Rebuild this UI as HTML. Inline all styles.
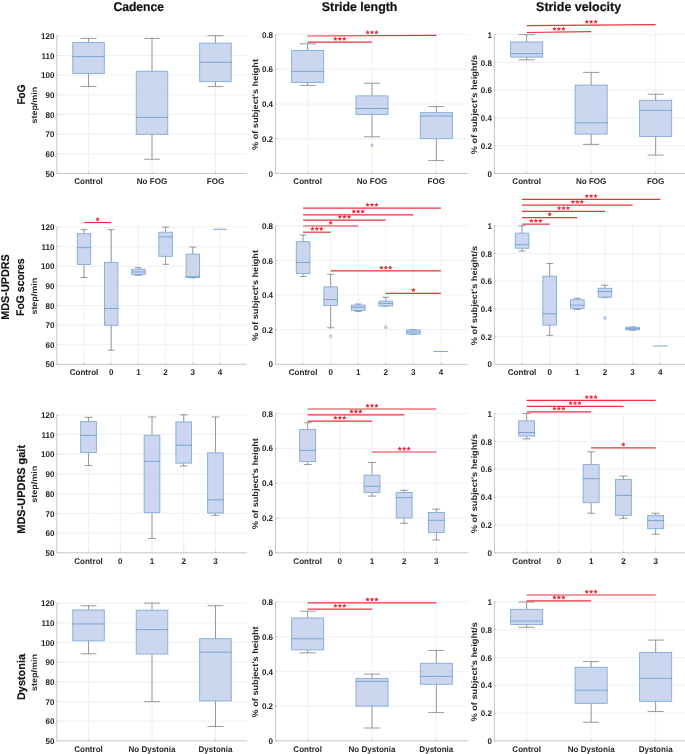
<!DOCTYPE html><html><head><meta charset="utf-8"><title>Gait parameters</title>
<style>html,body{margin:0;padding:0;background:#fff}svg{display:block;will-change:transform}text{font-family:"Liberation Sans",sans-serif;font-weight:bold;text-rendering:geometricPrecision}.t text{stroke:none}</style></head><body>
<svg width="685" height="754" viewBox="0 0 685 754">
<rect width="685" height="754" fill="#fff"/>
<text x="138.7" y="10.8" font-size="12.6" stroke="#111" stroke-width="0.2" text-anchor="middle" fill="#111" textLength="50.6" lengthAdjust="spacingAndGlyphs">Cadence</text>
<text x="359.6" y="10.8" font-size="12.6" stroke="#111" stroke-width="0.2" text-anchor="middle" fill="#111" textLength="75.6" lengthAdjust="spacingAndGlyphs">Stride length</text>
<text x="578.6" y="10.8" font-size="12.6" stroke="#111" stroke-width="0.2" text-anchor="middle" fill="#111" textLength="85" lengthAdjust="spacingAndGlyphs">Stride velocity</text>
<text transform="translate(21.4,94.5) rotate(-90)" font-size="11.2" stroke="#111" stroke-width="0.15" text-anchor="middle" fill="#111" textLength="20.1" lengthAdjust="spacingAndGlyphs" y="3.95">FoG</text>
<g class="t"><line x1="56.8" y1="153.76" x2="247.2" y2="153.76" stroke="#ececec" stroke-width="0.8"/><line x1="56.8" y1="134.11" x2="247.2" y2="134.11" stroke="#ececec" stroke-width="0.8"/><line x1="56.8" y1="114.47" x2="247.2" y2="114.47" stroke="#ececec" stroke-width="0.8"/><line x1="56.8" y1="94.83" x2="247.2" y2="94.83" stroke="#ececec" stroke-width="0.8"/><line x1="56.8" y1="75.19" x2="247.2" y2="75.19" stroke="#ececec" stroke-width="0.8"/><line x1="56.8" y1="55.54" x2="247.2" y2="55.54" stroke="#ececec" stroke-width="0.8"/><line x1="56.8" y1="35.9" x2="247.2" y2="35.9" stroke="#ececec" stroke-width="0.8"/><line x1="88.53" y1="35.9" x2="88.53" y2="173.4" stroke="#ececec" stroke-width="0.8"/><line x1="152" y1="35.9" x2="152" y2="173.4" stroke="#ececec" stroke-width="0.8"/><line x1="215.47" y1="35.9" x2="215.47" y2="173.4" stroke="#ececec" stroke-width="0.8"/><path d="M88.53 38.45V42.58M88.53 73.42V86.38M80.62 38.45H96.44M80.62 86.38H96.44" stroke="#808080" stroke-width="0.8" fill="none"/><rect x="72.77" y="42.58" width="31.53" height="30.84" fill="#bbcaea" fill-opacity="0.75" stroke="#7fabd9" stroke-width="0.9"/><line x1="72.32" y1="56.53" x2="104.75" y2="56.53" stroke="#6f9fd3" stroke-width="0.9"/><path d="M152 38.45V71.26M152 134.31V159.26M144.09 38.45H159.91M144.09 159.26H159.91" stroke="#808080" stroke-width="0.8" fill="none"/><rect x="136.23" y="71.26" width="31.53" height="63.05" fill="#bbcaea" fill-opacity="0.75" stroke="#7fabd9" stroke-width="0.9"/><line x1="135.78" y1="117.42" x2="168.22" y2="117.42" stroke="#6f9fd3" stroke-width="0.9"/><path d="M215.47 35.7V43.17M215.47 81.67V86.58M207.56 35.7H223.38M207.56 86.58H223.38" stroke="#808080" stroke-width="0.8" fill="none"/><rect x="199.7" y="43.17" width="31.53" height="38.5" fill="#bbcaea" fill-opacity="0.75" stroke="#7fabd9" stroke-width="0.9"/><line x1="199.25" y1="62.22" x2="231.68" y2="62.22" stroke="#6f9fd3" stroke-width="0.9"/><path d="M56.8 35.9V173.4H247.2" stroke="#bbbbbb" stroke-width="0.85" fill="none"/><path d="M56.8 173.4h1.6M56.8 153.76h1.6M56.8 134.11h1.6M56.8 114.47h1.6M56.8 94.83h1.6M56.8 75.19h1.6M56.8 55.54h1.6M56.8 35.9h1.6M88.53 173.4v-1.6M152 173.4v-1.6M215.47 173.4v-1.6" stroke="#bbbbbb" stroke-width="0.8" fill="none"/><text transform="translate(54.4,176.55) scale(0.97,1)" font-size="8.3" text-anchor="end" fill="#262626">50</text><text transform="translate(54.4,156.91) scale(0.97,1)" font-size="8.3" text-anchor="end" fill="#262626">60</text><text transform="translate(54.4,137.26) scale(0.97,1)" font-size="8.3" text-anchor="end" fill="#262626">70</text><text transform="translate(54.4,117.62) scale(0.97,1)" font-size="8.3" text-anchor="end" fill="#262626">80</text><text transform="translate(54.4,97.98) scale(0.97,1)" font-size="8.3" text-anchor="end" fill="#262626">90</text><text transform="translate(54.4,78.34) scale(0.97,1)" font-size="8.3" text-anchor="end" fill="#262626">100</text><text transform="translate(54.4,58.69) scale(0.97,1)" font-size="8.3" text-anchor="end" fill="#262626">110</text><text transform="translate(54.4,39.05) scale(0.97,1)" font-size="8.3" text-anchor="end" fill="#262626">120</text><text transform="translate(88.53,184.2) scale(0.97,1)" font-size="8.3" text-anchor="middle" fill="#262626">Control</text><text transform="translate(152,184.2) scale(0.97,1)" font-size="8.3" text-anchor="middle" fill="#262626">No FOG</text><text transform="translate(215.47,184.2) scale(0.97,1)" font-size="8.3" text-anchor="middle" fill="#262626">FOG</text><text transform="translate(36.8,105.15) rotate(-90)" font-size="8.2" text-anchor="middle" fill="#262626" textLength="36.8" lengthAdjust="spacingAndGlyphs" y="0">step/min</text></g>
<g class="t"><line x1="275.5" y1="138.7" x2="468.5" y2="138.7" stroke="#ececec" stroke-width="0.8"/><line x1="275.5" y1="104" x2="468.5" y2="104" stroke="#ececec" stroke-width="0.8"/><line x1="275.5" y1="69.3" x2="468.5" y2="69.3" stroke="#ececec" stroke-width="0.8"/><line x1="275.5" y1="34.6" x2="468.5" y2="34.6" stroke="#ececec" stroke-width="0.8"/><line x1="307.67" y1="34.6" x2="307.67" y2="173.4" stroke="#ececec" stroke-width="0.8"/><line x1="372" y1="34.6" x2="372" y2="173.4" stroke="#ececec" stroke-width="0.8"/><line x1="436.33" y1="34.6" x2="436.33" y2="173.4" stroke="#ececec" stroke-width="0.8"/><path d="M307.67 43.8V50.56M307.67 82.49V85.44M299.65 43.8H315.68M299.65 85.44H315.68" stroke="#808080" stroke-width="0.8" fill="none"/><rect x="291.68" y="50.56" width="31.97" height="31.92" fill="#bbcaea" fill-opacity="0.75" stroke="#7fabd9" stroke-width="0.9"/><line x1="291.23" y1="71.38" x2="324.1" y2="71.38" stroke="#6f9fd3" stroke-width="0.9"/><path d="M372 83.18V95.85M372 114.41V136.79M363.98 83.18H380.02M363.98 136.79H380.02" stroke="#808080" stroke-width="0.8" fill="none"/><rect x="356.02" y="95.85" width="31.97" height="18.56" fill="#bbcaea" fill-opacity="0.75" stroke="#7fabd9" stroke-width="0.9"/><line x1="355.57" y1="108.51" x2="388.43" y2="108.51" stroke="#6f9fd3" stroke-width="0.9"/><circle cx="372" cy="145.36" r="1.25" fill="none" stroke="#6f9fd3" stroke-width="0.75"/><path d="M436.33 106.6V112.68M436.33 138.7V160.6M428.32 106.6H444.35M428.32 160.6H444.35" stroke="#808080" stroke-width="0.8" fill="none"/><rect x="420.35" y="112.68" width="31.97" height="26.02" fill="#bbcaea" fill-opacity="0.75" stroke="#7fabd9" stroke-width="0.9"/><line x1="419.9" y1="115.97" x2="452.77" y2="115.97" stroke="#6f9fd3" stroke-width="0.9"/><path d="M275.5 34.6V173.4H468.5" stroke="#bbbbbb" stroke-width="0.85" fill="none"/><path d="M275.5 173.4h1.6M275.5 138.7h1.6M275.5 104h1.6M275.5 69.3h1.6M275.5 34.6h1.6M307.67 173.4v-1.6M372 173.4v-1.6M436.33 173.4v-1.6" stroke="#bbbbbb" stroke-width="0.8" fill="none"/><text transform="translate(273.1,176.55) scale(0.97,1)" font-size="8.3" text-anchor="end" fill="#262626">0</text><text transform="translate(273.1,141.85) scale(0.97,1)" font-size="8.3" text-anchor="end" fill="#262626">0.2</text><text transform="translate(273.1,107.15) scale(0.97,1)" font-size="8.3" text-anchor="end" fill="#262626">0.4</text><text transform="translate(273.1,72.45) scale(0.97,1)" font-size="8.3" text-anchor="end" fill="#262626">0.6</text><text transform="translate(273.1,37.75) scale(0.97,1)" font-size="8.3" text-anchor="end" fill="#262626">0.8</text><text transform="translate(307.67,184.2) scale(0.97,1)" font-size="8.3" text-anchor="middle" fill="#262626">Control</text><text transform="translate(372,184.2) scale(0.97,1)" font-size="8.3" text-anchor="middle" fill="#262626">No FOG</text><text transform="translate(436.33,184.2) scale(0.97,1)" font-size="8.3" text-anchor="middle" fill="#262626">FOG</text><text transform="translate(258.3,104.5) rotate(-90)" font-size="8.2" text-anchor="middle" fill="#262626" textLength="91" lengthAdjust="spacingAndGlyphs" y="0">% of subject&#39;s height</text><line x1="307.67" y1="36" x2="436.33" y2="35.4" stroke="#e8323c" stroke-width="1.2"/><polygon points="367.55,30.1 368.23,31.52 369.78,31.72 368.64,32.81 368.93,34.35 367.55,33.6 366.17,34.35 366.46,32.81 365.32,31.72 366.87,31.52" fill="#e8323c"/><polygon points="372,30.1 372.68,31.52 374.23,31.72 373.09,32.81 373.38,34.35 372,33.6 370.62,34.35 370.91,32.81 369.77,31.72 371.32,31.52" fill="#e8323c"/><polygon points="376.45,30.1 377.13,31.52 378.68,31.72 377.54,32.81 377.83,34.35 376.45,33.6 375.07,34.35 375.36,32.81 374.22,31.72 375.77,31.52" fill="#e8323c"/><line x1="307.67" y1="42.1" x2="372" y2="42.1" stroke="#e8323c" stroke-width="1.2"/><polygon points="335.38,36.5 336.06,37.92 337.62,38.12 336.48,39.21 336.76,40.75 335.38,40 334,40.75 334.29,39.21 333.15,38.12 334.71,37.92" fill="#e8323c"/><polygon points="339.83,36.5 340.51,37.92 342.07,38.12 340.93,39.21 341.21,40.75 339.83,40 338.45,40.75 338.74,39.21 337.6,38.12 339.16,37.92" fill="#e8323c"/><polygon points="344.28,36.5 344.96,37.92 346.52,38.12 345.38,39.21 345.66,40.75 344.28,40 342.9,40.75 343.19,39.21 342.05,38.12 343.61,37.92" fill="#e8323c"/></g>
<g class="t"><line x1="494.4" y1="145.64" x2="687.9" y2="145.64" stroke="#ececec" stroke-width="0.8"/><line x1="494.4" y1="117.88" x2="687.9" y2="117.88" stroke="#ececec" stroke-width="0.8"/><line x1="494.4" y1="90.12" x2="687.9" y2="90.12" stroke="#ececec" stroke-width="0.8"/><line x1="494.4" y1="62.36" x2="687.9" y2="62.36" stroke="#ececec" stroke-width="0.8"/><line x1="494.4" y1="34.6" x2="687.9" y2="34.6" stroke="#ececec" stroke-width="0.8"/><line x1="526.65" y1="34.6" x2="526.65" y2="173.4" stroke="#ececec" stroke-width="0.8"/><line x1="591.15" y1="34.6" x2="591.15" y2="173.4" stroke="#ececec" stroke-width="0.8"/><line x1="655.65" y1="34.6" x2="655.65" y2="173.4" stroke="#ececec" stroke-width="0.8"/><path d="M526.65 34.6V41.96M526.65 57.09V59.86M518.61 34.6H534.69M518.61 59.86H534.69" stroke="#808080" stroke-width="0.8" fill="none"/><rect x="510.62" y="41.96" width="32.05" height="15.13" fill="#bbcaea" fill-opacity="0.75" stroke="#7fabd9" stroke-width="0.9"/><line x1="510.17" y1="53.62" x2="543.12" y2="53.62" stroke="#6f9fd3" stroke-width="0.9"/><path d="M591.15 72.42V85.12M591.15 134.12V144.39M583.11 72.42H599.19M583.11 144.39H599.19" stroke="#808080" stroke-width="0.8" fill="none"/><rect x="575.12" y="85.12" width="32.05" height="49" fill="#bbcaea" fill-opacity="0.75" stroke="#7fabd9" stroke-width="0.9"/><line x1="574.67" y1="122.81" x2="607.62" y2="122.81" stroke="#6f9fd3" stroke-width="0.9"/><path d="M655.65 94.23V100.25M655.65 136.62V155.08M647.61 94.23H663.69M647.61 155.08H663.69" stroke="#808080" stroke-width="0.8" fill="none"/><rect x="639.62" y="100.25" width="32.05" height="36.37" fill="#bbcaea" fill-opacity="0.75" stroke="#7fabd9" stroke-width="0.9"/><line x1="639.17" y1="110.38" x2="672.12" y2="110.38" stroke="#6f9fd3" stroke-width="0.9"/><path d="M494.4 34.6V173.4H687.9" stroke="#bbbbbb" stroke-width="0.85" fill="none"/><path d="M494.4 173.4h1.6M494.4 145.64h1.6M494.4 117.88h1.6M494.4 90.12h1.6M494.4 62.36h1.6M494.4 34.6h1.6M526.65 173.4v-1.6M591.15 173.4v-1.6M655.65 173.4v-1.6" stroke="#bbbbbb" stroke-width="0.8" fill="none"/><text transform="translate(492,176.55) scale(0.97,1)" font-size="8.3" text-anchor="end" fill="#262626">0</text><text transform="translate(492,148.79) scale(0.97,1)" font-size="8.3" text-anchor="end" fill="#262626">0.2</text><text transform="translate(492,121.03) scale(0.97,1)" font-size="8.3" text-anchor="end" fill="#262626">0.4</text><text transform="translate(492,93.27) scale(0.97,1)" font-size="8.3" text-anchor="end" fill="#262626">0.6</text><text transform="translate(492,65.51) scale(0.97,1)" font-size="8.3" text-anchor="end" fill="#262626">0.8</text><text transform="translate(492,37.75) scale(0.97,1)" font-size="8.3" text-anchor="end" fill="#262626">1</text><text transform="translate(526.65,184.2) scale(0.97,1)" font-size="8.3" text-anchor="middle" fill="#262626">Control</text><text transform="translate(591.15,184.2) scale(0.97,1)" font-size="8.3" text-anchor="middle" fill="#262626">No FOG</text><text transform="translate(655.65,184.2) scale(0.97,1)" font-size="8.3" text-anchor="middle" fill="#262626">FOG</text><text transform="translate(477.2,104.5) rotate(-90)" font-size="8.2" text-anchor="middle" fill="#262626" textLength="99.3" lengthAdjust="spacingAndGlyphs" y="0">% of subject&#39;s height/s</text><line x1="526.65" y1="25.6" x2="655.65" y2="24.7" stroke="#e8323c" stroke-width="1.2"/><polygon points="586.7,19.55 587.38,20.97 588.93,21.17 587.79,22.26 588.08,23.8 586.7,23.05 585.32,23.8 585.61,22.26 584.47,21.17 586.02,20.97" fill="#e8323c"/><polygon points="591.15,19.55 591.83,20.97 593.38,21.17 592.24,22.26 592.53,23.8 591.15,23.05 589.77,23.8 590.06,22.26 588.92,21.17 590.47,20.97" fill="#e8323c"/><polygon points="595.6,19.55 596.28,20.97 597.83,21.17 596.69,22.26 596.98,23.8 595.6,23.05 594.22,23.8 594.51,22.26 593.37,21.17 594.92,20.97" fill="#e8323c"/><line x1="526.65" y1="32.5" x2="591.15" y2="31.7" stroke="#e8323c" stroke-width="1.2"/><polygon points="554.45,26.5 555.13,27.92 556.68,28.12 555.54,29.21 555.83,30.75 554.45,30 553.07,30.75 553.36,29.21 552.22,28.12 553.77,27.92" fill="#e8323c"/><polygon points="558.9,26.5 559.58,27.92 561.13,28.12 559.99,29.21 560.28,30.75 558.9,30 557.52,30.75 557.81,29.21 556.67,28.12 558.22,27.92" fill="#e8323c"/><polygon points="563.35,26.5 564.03,27.92 565.58,28.12 564.44,29.21 564.73,30.75 563.35,30 561.97,30.75 562.26,29.21 561.12,28.12 562.67,27.92" fill="#e8323c"/></g>
<text transform="translate(5.45,287) rotate(-90)" font-size="11.2" stroke="#111" stroke-width="0.15" text-anchor="middle" fill="#111" textLength="65.5" lengthAdjust="spacingAndGlyphs" y="3.95">MDS-UPDRS</text>
<text transform="translate(20.1,287.2) rotate(-90)" font-size="11.2" stroke="#111" stroke-width="0.15" text-anchor="middle" fill="#111" textLength="57.5" lengthAdjust="spacingAndGlyphs" y="3.95">FoG scores</text>
<g class="t"><line x1="56.8" y1="344.7" x2="247.2" y2="344.7" stroke="#ececec" stroke-width="0.8"/><line x1="56.8" y1="325.1" x2="247.2" y2="325.1" stroke="#ececec" stroke-width="0.8"/><line x1="56.8" y1="305.5" x2="247.2" y2="305.5" stroke="#ececec" stroke-width="0.8"/><line x1="56.8" y1="285.9" x2="247.2" y2="285.9" stroke="#ececec" stroke-width="0.8"/><line x1="56.8" y1="266.3" x2="247.2" y2="266.3" stroke="#ececec" stroke-width="0.8"/><line x1="56.8" y1="246.7" x2="247.2" y2="246.7" stroke="#ececec" stroke-width="0.8"/><line x1="56.8" y1="227.1" x2="247.2" y2="227.1" stroke="#ececec" stroke-width="0.8"/><line x1="84" y1="227.1" x2="84" y2="364.3" stroke="#ececec" stroke-width="0.8"/><line x1="111.2" y1="227.1" x2="111.2" y2="364.3" stroke="#ececec" stroke-width="0.8"/><line x1="138.4" y1="227.1" x2="138.4" y2="364.3" stroke="#ececec" stroke-width="0.8"/><line x1="165.6" y1="227.1" x2="165.6" y2="364.3" stroke="#ececec" stroke-width="0.8"/><line x1="192.8" y1="227.1" x2="192.8" y2="364.3" stroke="#ececec" stroke-width="0.8"/><line x1="220" y1="227.1" x2="220" y2="364.3" stroke="#ececec" stroke-width="0.8"/><path d="M84 229.65V233.76M84 264.54V277.47M80.62 229.65H87.38M80.62 277.47H87.38" stroke="#808080" stroke-width="0.8" fill="none"/><rect x="77.3" y="233.76" width="13.4" height="30.77" fill="#bbcaea" fill-opacity="0.75" stroke="#7fabd9" stroke-width="0.9"/><line x1="76.85" y1="247.68" x2="91.15" y2="247.68" stroke="#6f9fd3" stroke-width="0.9"/><path d="M111.2 229.65V262.38M111.2 325.3V350.19M107.82 229.65H114.57M107.82 350.19H114.57" stroke="#808080" stroke-width="0.8" fill="none"/><rect x="104.5" y="262.38" width="13.4" height="62.92" fill="#bbcaea" fill-opacity="0.75" stroke="#7fabd9" stroke-width="0.9"/><line x1="104.05" y1="308.44" x2="118.35" y2="308.44" stroke="#6f9fd3" stroke-width="0.9"/><path d="M138.4 267.67V269.24M138.4 274.53V275.32M135.02 267.67H141.77M135.02 275.32H141.77" stroke="#808080" stroke-width="0.8" fill="none"/><rect x="131.7" y="269.24" width="13.4" height="5.29" fill="#bbcaea" fill-opacity="0.75" stroke="#7fabd9" stroke-width="0.9"/><line x1="131.25" y1="271.98" x2="145.55" y2="271.98" stroke="#6f9fd3" stroke-width="0.9"/><path d="M165.6 227.1V232.2M165.6 256.3V264.34M162.22 227.1H168.97M162.22 264.34H168.97" stroke="#808080" stroke-width="0.8" fill="none"/><rect x="158.9" y="232.2" width="13.4" height="24.11" fill="#bbcaea" fill-opacity="0.75" stroke="#7fabd9" stroke-width="0.9"/><line x1="158.45" y1="236.9" x2="172.75" y2="236.9" stroke="#6f9fd3" stroke-width="0.9"/><path d="M192.8 247.09V254.15M192.8 277.47V277.86M189.43 247.09H196.18M189.43 277.86H196.18" stroke="#808080" stroke-width="0.8" fill="none"/><rect x="186.1" y="254.15" width="13.4" height="23.32" fill="#bbcaea" fill-opacity="0.75" stroke="#7fabd9" stroke-width="0.9"/><line x1="185.65" y1="276.69" x2="199.95" y2="276.69" stroke="#6f9fd3" stroke-width="0.9"/><line x1="212.85" y1="229.26" x2="227.15" y2="229.26" stroke="#6f9fd3" stroke-width="0.9"/><path d="M56.8 227.1V364.3H247.2" stroke="#bbbbbb" stroke-width="0.85" fill="none"/><path d="M56.8 364.3h1.6M56.8 344.7h1.6M56.8 325.1h1.6M56.8 305.5h1.6M56.8 285.9h1.6M56.8 266.3h1.6M56.8 246.7h1.6M56.8 227.1h1.6M84 364.3v-1.6M111.2 364.3v-1.6M138.4 364.3v-1.6M165.6 364.3v-1.6M192.8 364.3v-1.6M220 364.3v-1.6" stroke="#bbbbbb" stroke-width="0.8" fill="none"/><text transform="translate(54.4,367.45) scale(0.97,1)" font-size="8.3" text-anchor="end" fill="#262626">50</text><text transform="translate(54.4,347.85) scale(0.97,1)" font-size="8.3" text-anchor="end" fill="#262626">60</text><text transform="translate(54.4,328.25) scale(0.97,1)" font-size="8.3" text-anchor="end" fill="#262626">70</text><text transform="translate(54.4,308.65) scale(0.97,1)" font-size="8.3" text-anchor="end" fill="#262626">80</text><text transform="translate(54.4,289.05) scale(0.97,1)" font-size="8.3" text-anchor="end" fill="#262626">90</text><text transform="translate(54.4,269.45) scale(0.97,1)" font-size="8.3" text-anchor="end" fill="#262626">100</text><text transform="translate(54.4,249.85) scale(0.97,1)" font-size="8.3" text-anchor="end" fill="#262626">110</text><text transform="translate(54.4,230.25) scale(0.97,1)" font-size="8.3" text-anchor="end" fill="#262626">120</text><text transform="translate(84,375.1) scale(0.97,1)" font-size="8.3" text-anchor="middle" fill="#262626">Control</text><text transform="translate(111.2,375.1) scale(0.97,1)" font-size="8.3" text-anchor="middle" fill="#262626">0</text><text transform="translate(138.4,375.1) scale(0.97,1)" font-size="8.3" text-anchor="middle" fill="#262626">1</text><text transform="translate(165.6,375.1) scale(0.97,1)" font-size="8.3" text-anchor="middle" fill="#262626">2</text><text transform="translate(192.8,375.1) scale(0.97,1)" font-size="8.3" text-anchor="middle" fill="#262626">3</text><text transform="translate(220,375.1) scale(0.97,1)" font-size="8.3" text-anchor="middle" fill="#262626">4</text><text transform="translate(36.8,296.2) rotate(-90)" font-size="8.2" text-anchor="middle" fill="#262626" textLength="36.8" lengthAdjust="spacingAndGlyphs" y="0">step/min</text><line x1="84" y1="222.5" x2="111.2" y2="222.5" stroke="#e8323c" stroke-width="1.2"/><polygon points="97.6,216.9 98.28,218.32 99.83,218.52 98.69,219.61 98.98,221.15 97.6,220.4 96.22,221.15 96.51,219.61 95.37,218.52 96.92,218.32" fill="#e8323c"/></g>
<g class="t"><line x1="275.5" y1="329.68" x2="468.5" y2="329.68" stroke="#ececec" stroke-width="0.8"/><line x1="275.5" y1="295.05" x2="468.5" y2="295.05" stroke="#ececec" stroke-width="0.8"/><line x1="275.5" y1="260.43" x2="468.5" y2="260.43" stroke="#ececec" stroke-width="0.8"/><line x1="275.5" y1="225.8" x2="468.5" y2="225.8" stroke="#ececec" stroke-width="0.8"/><line x1="303.07" y1="225.8" x2="303.07" y2="364.3" stroke="#ececec" stroke-width="0.8"/><line x1="330.64" y1="225.8" x2="330.64" y2="364.3" stroke="#ececec" stroke-width="0.8"/><line x1="358.21" y1="225.8" x2="358.21" y2="364.3" stroke="#ececec" stroke-width="0.8"/><line x1="385.79" y1="225.8" x2="385.79" y2="364.3" stroke="#ececec" stroke-width="0.8"/><line x1="413.36" y1="225.8" x2="413.36" y2="364.3" stroke="#ececec" stroke-width="0.8"/><line x1="440.93" y1="225.8" x2="440.93" y2="364.3" stroke="#ececec" stroke-width="0.8"/><path d="M303.07 234.98V241.73M303.07 273.58V276.53M299.65 234.98H306.49M299.65 276.53H306.49" stroke="#808080" stroke-width="0.8" fill="none"/><rect x="296.28" y="241.73" width="13.59" height="31.85" fill="#bbcaea" fill-opacity="0.75" stroke="#7fabd9" stroke-width="0.9"/><line x1="295.83" y1="262.5" x2="310.31" y2="262.5" stroke="#6f9fd3" stroke-width="0.9"/><path d="M330.64 274.27V286.91M330.64 305.44V327.77M327.22 274.27H334.06M327.22 327.77H334.06" stroke="#808080" stroke-width="0.8" fill="none"/><rect x="323.85" y="286.91" width="13.59" height="18.52" fill="#bbcaea" fill-opacity="0.75" stroke="#7fabd9" stroke-width="0.9"/><line x1="323.4" y1="299.55" x2="337.89" y2="299.55" stroke="#6f9fd3" stroke-width="0.9"/><circle cx="330.64" cy="336.32" r="1.25" fill="none" stroke="#6f9fd3" stroke-width="0.75"/><path d="M358.21 304.05V305.09M358.21 310.46V311.39M354.79 304.05H361.64M354.79 311.39H361.64" stroke="#808080" stroke-width="0.8" fill="none"/><rect x="351.42" y="305.09" width="13.59" height="5.37" fill="#bbcaea" fill-opacity="0.75" stroke="#7fabd9" stroke-width="0.9"/><line x1="350.97" y1="307.34" x2="365.46" y2="307.34" stroke="#6f9fd3" stroke-width="0.9"/><path d="M385.79 297.3V301.11M385.79 305.96V306.13M382.36 297.3H389.21M382.36 306.13H389.21" stroke="#808080" stroke-width="0.8" fill="none"/><rect x="378.99" y="301.11" width="13.59" height="4.85" fill="#bbcaea" fill-opacity="0.75" stroke="#7fabd9" stroke-width="0.9"/><line x1="378.54" y1="303.36" x2="393.03" y2="303.36" stroke="#6f9fd3" stroke-width="0.9"/><circle cx="385.79" cy="327.3" r="1.25" fill="none" stroke="#6f9fd3" stroke-width="0.75"/><path d="M413.36 329.68V330.02M413.36 334.09V334.52M409.94 329.68H416.78M409.94 334.52H416.78" stroke="#808080" stroke-width="0.8" fill="none"/><rect x="406.56" y="330.02" width="13.59" height="4.07" fill="#bbcaea" fill-opacity="0.75" stroke="#7fabd9" stroke-width="0.9"/><line x1="406.11" y1="332.1" x2="420.6" y2="332.1" stroke="#6f9fd3" stroke-width="0.9"/><line x1="433.69" y1="351.49" x2="448.17" y2="351.49" stroke="#6f9fd3" stroke-width="0.9"/><path d="M275.5 225.8V364.3H468.5" stroke="#bbbbbb" stroke-width="0.85" fill="none"/><path d="M275.5 364.3h1.6M275.5 329.68h1.6M275.5 295.05h1.6M275.5 260.43h1.6M275.5 225.8h1.6M303.07 364.3v-1.6M330.64 364.3v-1.6M358.21 364.3v-1.6M385.79 364.3v-1.6M413.36 364.3v-1.6M440.93 364.3v-1.6" stroke="#bbbbbb" stroke-width="0.8" fill="none"/><text transform="translate(273.1,367.45) scale(0.97,1)" font-size="8.3" text-anchor="end" fill="#262626">0</text><text transform="translate(273.1,332.82) scale(0.97,1)" font-size="8.3" text-anchor="end" fill="#262626">0.2</text><text transform="translate(273.1,298.2) scale(0.97,1)" font-size="8.3" text-anchor="end" fill="#262626">0.4</text><text transform="translate(273.1,263.57) scale(0.97,1)" font-size="8.3" text-anchor="end" fill="#262626">0.6</text><text transform="translate(273.1,228.95) scale(0.97,1)" font-size="8.3" text-anchor="end" fill="#262626">0.8</text><text transform="translate(303.07,375.1) scale(0.97,1)" font-size="8.3" text-anchor="middle" fill="#262626">Control</text><text transform="translate(330.64,375.1) scale(0.97,1)" font-size="8.3" text-anchor="middle" fill="#262626">0</text><text transform="translate(358.21,375.1) scale(0.97,1)" font-size="8.3" text-anchor="middle" fill="#262626">1</text><text transform="translate(385.79,375.1) scale(0.97,1)" font-size="8.3" text-anchor="middle" fill="#262626">2</text><text transform="translate(413.36,375.1) scale(0.97,1)" font-size="8.3" text-anchor="middle" fill="#262626">3</text><text transform="translate(440.93,375.1) scale(0.97,1)" font-size="8.3" text-anchor="middle" fill="#262626">4</text><text transform="translate(258.3,295.55) rotate(-90)" font-size="8.2" text-anchor="middle" fill="#262626" textLength="91" lengthAdjust="spacingAndGlyphs" y="0">% of subject&#39;s height</text><line x1="303.07" y1="208.1" x2="440.93" y2="208.1" stroke="#e8323c" stroke-width="1.2"/><polygon points="367.55,202.5 368.23,203.92 369.78,204.12 368.64,205.21 368.93,206.75 367.55,206 366.17,206.75 366.46,205.21 365.32,204.12 366.87,203.92" fill="#e8323c"/><polygon points="372,202.5 372.68,203.92 374.23,204.12 373.09,205.21 373.38,206.75 372,206 370.62,206.75 370.91,205.21 369.77,204.12 371.32,203.92" fill="#e8323c"/><polygon points="376.45,202.5 377.13,203.92 378.68,204.12 377.54,205.21 377.83,206.75 376.45,206 375.07,206.75 375.36,205.21 374.22,204.12 375.77,203.92" fill="#e8323c"/><line x1="303.07" y1="214.8" x2="413.36" y2="214.8" stroke="#e8323c" stroke-width="1.2"/><polygon points="353.76,209.2 354.44,210.62 356,210.82 354.86,211.91 355.15,213.45 353.76,212.7 352.38,213.45 352.67,211.91 351.53,210.82 353.09,210.62" fill="#e8323c"/><polygon points="358.21,209.2 358.89,210.62 360.45,210.82 359.31,211.91 359.6,213.45 358.21,212.7 356.83,213.45 357.12,211.91 355.98,210.82 357.54,210.62" fill="#e8323c"/><polygon points="362.66,209.2 363.34,210.62 364.9,210.82 363.76,211.91 364.05,213.45 362.66,212.7 361.28,213.45 361.57,211.91 360.43,210.82 361.99,210.62" fill="#e8323c"/><line x1="303.07" y1="220.2" x2="385.79" y2="220.2" stroke="#e8323c" stroke-width="1.2"/><polygon points="339.98,214.6 340.65,216.02 342.21,216.22 341.07,217.31 341.36,218.85 339.98,218.1 338.6,218.85 338.88,217.31 337.74,216.22 339.3,216.02" fill="#e8323c"/><polygon points="344.43,214.6 345.1,216.02 346.66,216.22 345.52,217.31 345.81,218.85 344.43,218.1 343.05,218.85 343.33,217.31 342.19,216.22 343.75,216.02" fill="#e8323c"/><polygon points="348.88,214.6 349.55,216.02 351.11,216.22 349.97,217.31 350.26,218.85 348.88,218.1 347.5,218.85 347.78,217.31 346.64,216.22 348.2,216.02" fill="#e8323c"/><line x1="303.07" y1="226" x2="358.21" y2="226" stroke="#e8323c" stroke-width="1.2"/><polygon points="330.64,220.4 331.32,221.82 332.88,222.02 331.74,223.11 332.02,224.65 330.64,223.9 329.26,224.65 329.55,223.11 328.41,222.02 329.97,221.82" fill="#e8323c"/><line x1="303.07" y1="232.2" x2="330.64" y2="232.2" stroke="#e8323c" stroke-width="1.2"/><polygon points="312.41,226.6 313.08,228.02 314.64,228.22 313.5,229.31 313.79,230.85 312.41,230.1 311.03,230.85 311.31,229.31 310.17,228.22 311.73,228.02" fill="#e8323c"/><polygon points="316.86,226.6 317.53,228.02 319.09,228.22 317.95,229.31 318.24,230.85 316.86,230.1 315.48,230.85 315.76,229.31 314.62,228.22 316.18,228.02" fill="#e8323c"/><polygon points="321.31,226.6 321.98,228.02 323.54,228.22 322.4,229.31 322.69,230.85 321.31,230.1 319.93,230.85 320.21,229.31 319.07,228.22 320.63,228.02" fill="#e8323c"/><line x1="330.64" y1="270.9" x2="440.93" y2="270.9" stroke="#e8323c" stroke-width="1.2"/><polygon points="381.34,265.3 382.01,266.72 383.57,266.92 382.43,268.01 382.72,269.55 381.34,268.8 379.95,269.55 380.24,268.01 379.1,266.92 380.66,266.72" fill="#e8323c"/><polygon points="385.79,265.3 386.46,266.72 388.02,266.92 386.88,268.01 387.17,269.55 385.79,268.8 384.4,269.55 384.69,268.01 383.55,266.92 385.11,266.72" fill="#e8323c"/><polygon points="390.24,265.3 390.91,266.72 392.47,266.92 391.33,268.01 391.62,269.55 390.24,268.8 388.85,269.55 389.14,268.01 388,266.92 389.56,266.72" fill="#e8323c"/><line x1="385.79" y1="293.3" x2="440.93" y2="293.3" stroke="#e8323c" stroke-width="1.2"/><polygon points="413.36,287.7 414.03,289.12 415.59,289.32 414.45,290.41 414.74,291.95 413.36,291.2 411.98,291.95 412.26,290.41 411.12,289.32 412.68,289.12" fill="#e8323c"/></g>
<g class="t"><line x1="494.4" y1="336.6" x2="687.9" y2="336.6" stroke="#ececec" stroke-width="0.8"/><line x1="494.4" y1="308.9" x2="687.9" y2="308.9" stroke="#ececec" stroke-width="0.8"/><line x1="494.4" y1="281.2" x2="687.9" y2="281.2" stroke="#ececec" stroke-width="0.8"/><line x1="494.4" y1="253.5" x2="687.9" y2="253.5" stroke="#ececec" stroke-width="0.8"/><line x1="494.4" y1="225.8" x2="687.9" y2="225.8" stroke="#ececec" stroke-width="0.8"/><line x1="522.04" y1="225.8" x2="522.04" y2="364.3" stroke="#ececec" stroke-width="0.8"/><line x1="549.69" y1="225.8" x2="549.69" y2="364.3" stroke="#ececec" stroke-width="0.8"/><line x1="577.33" y1="225.8" x2="577.33" y2="364.3" stroke="#ececec" stroke-width="0.8"/><line x1="604.97" y1="225.8" x2="604.97" y2="364.3" stroke="#ececec" stroke-width="0.8"/><line x1="632.61" y1="225.8" x2="632.61" y2="364.3" stroke="#ececec" stroke-width="0.8"/><line x1="660.26" y1="225.8" x2="660.26" y2="364.3" stroke="#ececec" stroke-width="0.8"/><path d="M522.04 225.8V233.14M522.04 248.24V251.01M518.61 225.8H525.47M518.61 251.01H525.47" stroke="#808080" stroke-width="0.8" fill="none"/><rect x="515.23" y="233.14" width="13.62" height="15.1" fill="#bbcaea" fill-opacity="0.75" stroke="#7fabd9" stroke-width="0.9"/><line x1="514.78" y1="244.77" x2="529.3" y2="244.77" stroke="#6f9fd3" stroke-width="0.9"/><path d="M549.69 263.54V276.21M549.69 325.1V335.35M546.26 263.54H553.12M546.26 335.35H553.12" stroke="#808080" stroke-width="0.8" fill="none"/><rect x="542.88" y="276.21" width="13.62" height="48.89" fill="#bbcaea" fill-opacity="0.75" stroke="#7fabd9" stroke-width="0.9"/><line x1="542.43" y1="313.82" x2="556.95" y2="313.82" stroke="#6f9fd3" stroke-width="0.9"/><path d="M577.33 298.3V299.76M577.33 308.35V309.45M573.9 298.3H580.76M573.9 309.45H580.76" stroke="#808080" stroke-width="0.8" fill="none"/><rect x="570.52" y="299.76" width="13.62" height="8.59" fill="#bbcaea" fill-opacity="0.75" stroke="#7fabd9" stroke-width="0.9"/><line x1="570.07" y1="305.16" x2="584.59" y2="305.16" stroke="#6f9fd3" stroke-width="0.9"/><path d="M604.97 285.22V288.26M604.97 297.13V297.6M601.54 285.22H608.4M601.54 297.6H608.4" stroke="#808080" stroke-width="0.8" fill="none"/><rect x="598.16" y="288.26" width="13.62" height="8.86" fill="#bbcaea" fill-opacity="0.75" stroke="#7fabd9" stroke-width="0.9"/><line x1="597.71" y1="291.5" x2="612.23" y2="291.5" stroke="#6f9fd3" stroke-width="0.9"/><circle cx="604.97" cy="318.04" r="1.25" fill="none" stroke="#6f9fd3" stroke-width="0.75"/><path d="M632.61 326.91V327.32M632.61 329.81V330.23M629.18 326.91H636.04M629.18 330.23H636.04" stroke="#808080" stroke-width="0.8" fill="none"/><rect x="625.8" y="327.32" width="13.62" height="2.49" fill="#bbcaea" fill-opacity="0.75" stroke="#7fabd9" stroke-width="0.9"/><line x1="625.35" y1="328.57" x2="639.87" y2="328.57" stroke="#6f9fd3" stroke-width="0.9"/><line x1="653" y1="346.02" x2="667.52" y2="346.02" stroke="#6f9fd3" stroke-width="0.9"/><path d="M494.4 225.8V364.3H687.9" stroke="#bbbbbb" stroke-width="0.85" fill="none"/><path d="M494.4 364.3h1.6M494.4 336.6h1.6M494.4 308.9h1.6M494.4 281.2h1.6M494.4 253.5h1.6M494.4 225.8h1.6M522.04 364.3v-1.6M549.69 364.3v-1.6M577.33 364.3v-1.6M604.97 364.3v-1.6M632.61 364.3v-1.6M660.26 364.3v-1.6" stroke="#bbbbbb" stroke-width="0.8" fill="none"/><text transform="translate(492,367.45) scale(0.97,1)" font-size="8.3" text-anchor="end" fill="#262626">0</text><text transform="translate(492,339.75) scale(0.97,1)" font-size="8.3" text-anchor="end" fill="#262626">0.2</text><text transform="translate(492,312.05) scale(0.97,1)" font-size="8.3" text-anchor="end" fill="#262626">0.4</text><text transform="translate(492,284.35) scale(0.97,1)" font-size="8.3" text-anchor="end" fill="#262626">0.6</text><text transform="translate(492,256.65) scale(0.97,1)" font-size="8.3" text-anchor="end" fill="#262626">0.8</text><text transform="translate(492,228.95) scale(0.97,1)" font-size="8.3" text-anchor="end" fill="#262626">1</text><text transform="translate(522.04,375.1) scale(0.97,1)" font-size="8.3" text-anchor="middle" fill="#262626">Control</text><text transform="translate(549.69,375.1) scale(0.97,1)" font-size="8.3" text-anchor="middle" fill="#262626">0</text><text transform="translate(577.33,375.1) scale(0.97,1)" font-size="8.3" text-anchor="middle" fill="#262626">1</text><text transform="translate(604.97,375.1) scale(0.97,1)" font-size="8.3" text-anchor="middle" fill="#262626">2</text><text transform="translate(632.61,375.1) scale(0.97,1)" font-size="8.3" text-anchor="middle" fill="#262626">3</text><text transform="translate(660.26,375.1) scale(0.97,1)" font-size="8.3" text-anchor="middle" fill="#262626">4</text><text transform="translate(477.2,295.55) rotate(-90)" font-size="8.2" text-anchor="middle" fill="#262626" textLength="99.3" lengthAdjust="spacingAndGlyphs" y="0">% of subject&#39;s height/s</text><line x1="522.04" y1="199.4" x2="660.26" y2="199.4" stroke="#e8323c" stroke-width="1.2"/><polygon points="586.7,193.8 587.38,195.22 588.93,195.42 587.79,196.51 588.08,198.05 586.7,197.3 585.32,198.05 585.61,196.51 584.47,195.42 586.02,195.22" fill="#e8323c"/><polygon points="591.15,193.8 591.83,195.22 593.38,195.42 592.24,196.51 592.53,198.05 591.15,197.3 589.77,198.05 590.06,196.51 588.92,195.42 590.47,195.22" fill="#e8323c"/><polygon points="595.6,193.8 596.28,195.22 597.83,195.42 596.69,196.51 596.98,198.05 595.6,197.3 594.22,198.05 594.51,196.51 593.37,195.42 594.92,195.22" fill="#e8323c"/><line x1="522.04" y1="205.1" x2="632.61" y2="205.1" stroke="#e8323c" stroke-width="1.2"/><polygon points="572.88,199.5 573.55,200.92 575.11,201.12 573.97,202.21 574.26,203.75 572.88,203 571.5,203.75 571.78,202.21 570.64,201.12 572.2,200.92" fill="#e8323c"/><polygon points="577.33,199.5 578,200.92 579.56,201.12 578.42,202.21 578.71,203.75 577.33,203 575.95,203.75 576.23,202.21 575.09,201.12 576.65,200.92" fill="#e8323c"/><polygon points="581.78,199.5 582.45,200.92 584.01,201.12 582.87,202.21 583.16,203.75 581.78,203 580.4,203.75 580.68,202.21 579.54,201.12 581.1,200.92" fill="#e8323c"/><line x1="522.04" y1="211.35" x2="604.97" y2="211.35" stroke="#e8323c" stroke-width="1.2"/><polygon points="559.06,205.75 559.73,207.17 561.29,207.37 560.15,208.46 560.44,210 559.06,209.25 557.68,210 557.96,208.46 556.82,207.37 558.38,207.17" fill="#e8323c"/><polygon points="563.51,205.75 564.18,207.17 565.74,207.37 564.6,208.46 564.89,210 563.51,209.25 562.13,210 562.41,208.46 561.27,207.37 562.83,207.17" fill="#e8323c"/><polygon points="567.96,205.75 568.63,207.17 570.19,207.37 569.05,208.46 569.34,210 567.96,209.25 566.58,210 566.86,208.46 565.72,207.37 567.28,207.17" fill="#e8323c"/><line x1="522.04" y1="217.55" x2="577.33" y2="217.55" stroke="#e8323c" stroke-width="1.2"/><polygon points="549.69,211.95 550.36,213.37 551.92,213.57 550.78,214.66 551.07,216.2 549.69,215.45 548.3,216.2 548.59,214.66 547.45,213.57 549.01,213.37" fill="#e8323c"/><line x1="522.04" y1="224.15" x2="549.69" y2="224.15" stroke="#e8323c" stroke-width="1.2"/><polygon points="531.41,218.55 532.09,219.97 533.65,220.17 532.51,221.26 532.8,222.8 531.41,222.05 530.03,222.8 530.32,221.26 529.18,220.17 530.74,219.97" fill="#e8323c"/><polygon points="535.86,218.55 536.54,219.97 538.1,220.17 536.96,221.26 537.25,222.8 535.86,222.05 534.48,222.8 534.77,221.26 533.63,220.17 535.19,219.97" fill="#e8323c"/><polygon points="540.31,218.55 540.99,219.97 542.55,220.17 541.41,221.26 541.7,222.8 540.31,222.05 538.93,222.8 539.22,221.26 538.08,220.17 539.64,219.97" fill="#e8323c"/></g>
<text transform="translate(21.4,489.3) rotate(-90)" font-size="11.2" stroke="#111" stroke-width="0.15" text-anchor="middle" fill="#111" textLength="88.7" lengthAdjust="spacingAndGlyphs" y="3.95">MDS-UPDRS gait</text>
<g class="t"><line x1="56.8" y1="533.09" x2="247.2" y2="533.09" stroke="#ececec" stroke-width="0.8"/><line x1="56.8" y1="513.37" x2="247.2" y2="513.37" stroke="#ececec" stroke-width="0.8"/><line x1="56.8" y1="493.66" x2="247.2" y2="493.66" stroke="#ececec" stroke-width="0.8"/><line x1="56.8" y1="473.94" x2="247.2" y2="473.94" stroke="#ececec" stroke-width="0.8"/><line x1="56.8" y1="454.23" x2="247.2" y2="454.23" stroke="#ececec" stroke-width="0.8"/><line x1="56.8" y1="434.51" x2="247.2" y2="434.51" stroke="#ececec" stroke-width="0.8"/><line x1="56.8" y1="414.8" x2="247.2" y2="414.8" stroke="#ececec" stroke-width="0.8"/><line x1="88.53" y1="414.8" x2="88.53" y2="552.8" stroke="#ececec" stroke-width="0.8"/><line x1="120.27" y1="414.8" x2="120.27" y2="552.8" stroke="#ececec" stroke-width="0.8"/><line x1="152" y1="414.8" x2="152" y2="552.8" stroke="#ececec" stroke-width="0.8"/><line x1="183.73" y1="414.8" x2="183.73" y2="552.8" stroke="#ececec" stroke-width="0.8"/><line x1="215.47" y1="414.8" x2="215.47" y2="552.8" stroke="#ececec" stroke-width="0.8"/><path d="M88.53 417.36V421.5M88.53 452.45V465.47M84.59 417.36H92.47M84.59 465.47H92.47" stroke="#808080" stroke-width="0.8" fill="none"/><rect x="80.7" y="421.5" width="15.67" height="30.95" fill="#bbcaea" fill-opacity="0.75" stroke="#7fabd9" stroke-width="0.9"/><line x1="80.25" y1="435.5" x2="96.82" y2="435.5" stroke="#6f9fd3" stroke-width="0.9"/><path d="M152 416.97V435.3M152 512.58V538.41M148.06 416.97H155.94M148.06 538.41H155.94" stroke="#808080" stroke-width="0.8" fill="none"/><rect x="144.17" y="435.3" width="15.67" height="77.28" fill="#bbcaea" fill-opacity="0.75" stroke="#7fabd9" stroke-width="0.9"/><line x1="143.72" y1="461.33" x2="160.28" y2="461.33" stroke="#6f9fd3" stroke-width="0.9"/><path d="M183.73 414.8V421.9M183.73 463.1V466.06M179.79 414.8H187.68M179.79 466.06H187.68" stroke="#808080" stroke-width="0.8" fill="none"/><rect x="175.9" y="421.9" width="15.67" height="41.2" fill="#bbcaea" fill-opacity="0.75" stroke="#7fabd9" stroke-width="0.9"/><line x1="175.45" y1="445.16" x2="192.02" y2="445.16" stroke="#6f9fd3" stroke-width="0.9"/><path d="M215.47 416.97V452.85M215.47 512.98V515.34M211.53 416.97H219.41M211.53 515.34H219.41" stroke="#808080" stroke-width="0.8" fill="none"/><rect x="207.63" y="452.85" width="15.67" height="60.13" fill="#bbcaea" fill-opacity="0.75" stroke="#7fabd9" stroke-width="0.9"/><line x1="207.18" y1="499.77" x2="223.75" y2="499.77" stroke="#6f9fd3" stroke-width="0.9"/><path d="M56.8 414.8V552.8H247.2" stroke="#bbbbbb" stroke-width="0.85" fill="none"/><path d="M56.8 552.8h1.6M56.8 533.09h1.6M56.8 513.37h1.6M56.8 493.66h1.6M56.8 473.94h1.6M56.8 454.23h1.6M56.8 434.51h1.6M56.8 414.8h1.6M88.53 552.8v-1.6M120.27 552.8v-1.6M152 552.8v-1.6M183.73 552.8v-1.6M215.47 552.8v-1.6" stroke="#bbbbbb" stroke-width="0.8" fill="none"/><text transform="translate(54.4,555.95) scale(0.97,1)" font-size="8.3" text-anchor="end" fill="#262626">50</text><text transform="translate(54.4,536.24) scale(0.97,1)" font-size="8.3" text-anchor="end" fill="#262626">60</text><text transform="translate(54.4,516.52) scale(0.97,1)" font-size="8.3" text-anchor="end" fill="#262626">70</text><text transform="translate(54.4,496.81) scale(0.97,1)" font-size="8.3" text-anchor="end" fill="#262626">80</text><text transform="translate(54.4,477.09) scale(0.97,1)" font-size="8.3" text-anchor="end" fill="#262626">90</text><text transform="translate(54.4,457.38) scale(0.97,1)" font-size="8.3" text-anchor="end" fill="#262626">100</text><text transform="translate(54.4,437.66) scale(0.97,1)" font-size="8.3" text-anchor="end" fill="#262626">110</text><text transform="translate(54.4,417.95) scale(0.97,1)" font-size="8.3" text-anchor="end" fill="#262626">120</text><text transform="translate(88.53,563.6) scale(0.97,1)" font-size="8.3" text-anchor="middle" fill="#262626">Control</text><text transform="translate(120.27,563.6) scale(0.97,1)" font-size="8.3" text-anchor="middle" fill="#262626">0</text><text transform="translate(152,563.6) scale(0.97,1)" font-size="8.3" text-anchor="middle" fill="#262626">1</text><text transform="translate(183.73,563.6) scale(0.97,1)" font-size="8.3" text-anchor="middle" fill="#262626">2</text><text transform="translate(215.47,563.6) scale(0.97,1)" font-size="8.3" text-anchor="middle" fill="#262626">3</text><text transform="translate(36.8,484.3) rotate(-90)" font-size="8.2" text-anchor="middle" fill="#262626" textLength="36.8" lengthAdjust="spacingAndGlyphs" y="0">step/min</text></g>
<g class="t"><line x1="275.5" y1="517.97" x2="468.5" y2="517.97" stroke="#ececec" stroke-width="0.8"/><line x1="275.5" y1="483.15" x2="468.5" y2="483.15" stroke="#ececec" stroke-width="0.8"/><line x1="275.5" y1="448.32" x2="468.5" y2="448.32" stroke="#ececec" stroke-width="0.8"/><line x1="275.5" y1="413.5" x2="468.5" y2="413.5" stroke="#ececec" stroke-width="0.8"/><line x1="307.67" y1="413.5" x2="307.67" y2="552.8" stroke="#ececec" stroke-width="0.8"/><line x1="339.83" y1="413.5" x2="339.83" y2="552.8" stroke="#ececec" stroke-width="0.8"/><line x1="372" y1="413.5" x2="372" y2="552.8" stroke="#ececec" stroke-width="0.8"/><line x1="404.17" y1="413.5" x2="404.17" y2="552.8" stroke="#ececec" stroke-width="0.8"/><line x1="436.33" y1="413.5" x2="436.33" y2="552.8" stroke="#ececec" stroke-width="0.8"/><path d="M307.67 422.73V429.52M307.67 461.56V464.52M303.67 422.73H311.66M303.67 464.52H311.66" stroke="#808080" stroke-width="0.8" fill="none"/><rect x="299.73" y="429.52" width="15.88" height="32.04" fill="#bbcaea" fill-opacity="0.75" stroke="#7fabd9" stroke-width="0.9"/><line x1="299.28" y1="450.41" x2="316.06" y2="450.41" stroke="#6f9fd3" stroke-width="0.9"/><path d="M372 462.43V475.19M372 492.59V496.09M368 462.43H376M368 496.09H376" stroke="#808080" stroke-width="0.8" fill="none"/><rect x="364.06" y="475.19" width="15.88" height="17.4" fill="#bbcaea" fill-opacity="0.75" stroke="#7fabd9" stroke-width="0.9"/><line x1="363.61" y1="486.28" x2="380.39" y2="486.28" stroke="#6f9fd3" stroke-width="0.9"/><path d="M404.17 490.29V492.59M404.17 517.97V523.3M400.17 490.29H408.16M400.17 523.3H408.16" stroke="#808080" stroke-width="0.8" fill="none"/><rect x="396.22" y="492.59" width="15.88" height="25.39" fill="#bbcaea" fill-opacity="0.75" stroke="#7fabd9" stroke-width="0.9"/><line x1="395.77" y1="497.6" x2="412.56" y2="497.6" stroke="#6f9fd3" stroke-width="0.9"/><path d="M436.33 509.2V512.49M436.33 532.43V540M432.34 509.2H440.33M432.34 540H440.33" stroke="#808080" stroke-width="0.8" fill="none"/><rect x="428.39" y="512.49" width="15.88" height="19.94" fill="#bbcaea" fill-opacity="0.75" stroke="#7fabd9" stroke-width="0.9"/><line x1="427.94" y1="520.29" x2="444.72" y2="520.29" stroke="#6f9fd3" stroke-width="0.9"/><path d="M275.5 413.5V552.8H468.5" stroke="#bbbbbb" stroke-width="0.85" fill="none"/><path d="M275.5 552.8h1.6M275.5 517.97h1.6M275.5 483.15h1.6M275.5 448.32h1.6M275.5 413.5h1.6M307.67 552.8v-1.6M339.83 552.8v-1.6M372 552.8v-1.6M404.17 552.8v-1.6M436.33 552.8v-1.6" stroke="#bbbbbb" stroke-width="0.8" fill="none"/><text transform="translate(273.1,555.95) scale(0.97,1)" font-size="8.3" text-anchor="end" fill="#262626">0</text><text transform="translate(273.1,521.12) scale(0.97,1)" font-size="8.3" text-anchor="end" fill="#262626">0.2</text><text transform="translate(273.1,486.3) scale(0.97,1)" font-size="8.3" text-anchor="end" fill="#262626">0.4</text><text transform="translate(273.1,451.47) scale(0.97,1)" font-size="8.3" text-anchor="end" fill="#262626">0.6</text><text transform="translate(273.1,416.65) scale(0.97,1)" font-size="8.3" text-anchor="end" fill="#262626">0.8</text><text transform="translate(307.67,563.6) scale(0.97,1)" font-size="8.3" text-anchor="middle" fill="#262626">Control</text><text transform="translate(339.83,563.6) scale(0.97,1)" font-size="8.3" text-anchor="middle" fill="#262626">0</text><text transform="translate(372,563.6) scale(0.97,1)" font-size="8.3" text-anchor="middle" fill="#262626">1</text><text transform="translate(404.17,563.6) scale(0.97,1)" font-size="8.3" text-anchor="middle" fill="#262626">2</text><text transform="translate(436.33,563.6) scale(0.97,1)" font-size="8.3" text-anchor="middle" fill="#262626">3</text><text transform="translate(258.3,483.65) rotate(-90)" font-size="8.2" text-anchor="middle" fill="#262626" textLength="91" lengthAdjust="spacingAndGlyphs" y="0">% of subject&#39;s height</text><line x1="307.67" y1="409" x2="436.33" y2="409" stroke="#e8323c" stroke-width="1.2"/><polygon points="367.55,403.4 368.23,404.82 369.78,405.02 368.64,406.11 368.93,407.65 367.55,406.9 366.17,407.65 366.46,406.11 365.32,405.02 366.87,404.82" fill="#e8323c"/><polygon points="372,403.4 372.68,404.82 374.23,405.02 373.09,406.11 373.38,407.65 372,406.9 370.62,407.65 370.91,406.11 369.77,405.02 371.32,404.82" fill="#e8323c"/><polygon points="376.45,403.4 377.13,404.82 378.68,405.02 377.54,406.11 377.83,407.65 376.45,406.9 375.07,407.65 375.36,406.11 374.22,405.02 375.77,404.82" fill="#e8323c"/><line x1="307.67" y1="414.8" x2="404.17" y2="414.8" stroke="#e8323c" stroke-width="1.2"/><polygon points="351.47,409.2 352.14,410.62 353.7,410.82 352.56,411.91 352.85,413.45 351.47,412.7 350.09,413.45 350.37,411.91 349.23,410.82 350.79,410.62" fill="#e8323c"/><polygon points="355.92,409.2 356.59,410.62 358.15,410.82 357.01,411.91 357.3,413.45 355.92,412.7 354.54,413.45 354.82,411.91 353.68,410.82 355.24,410.62" fill="#e8323c"/><polygon points="360.37,409.2 361.04,410.62 362.6,410.82 361.46,411.91 361.75,413.45 360.37,412.7 358.99,413.45 359.27,411.91 358.13,410.82 359.69,410.62" fill="#e8323c"/><line x1="307.67" y1="421.1" x2="372" y2="421.1" stroke="#e8323c" stroke-width="1.2"/><polygon points="335.38,415.5 336.06,416.92 337.62,417.12 336.48,418.21 336.76,419.75 335.38,419 334,419.75 334.29,418.21 333.15,417.12 334.71,416.92" fill="#e8323c"/><polygon points="339.83,415.5 340.51,416.92 342.07,417.12 340.93,418.21 341.21,419.75 339.83,419 338.45,419.75 338.74,418.21 337.6,417.12 339.16,416.92" fill="#e8323c"/><polygon points="344.28,415.5 344.96,416.92 346.52,417.12 345.38,418.21 345.66,419.75 344.28,419 342.9,419.75 343.19,418.21 342.05,417.12 343.61,416.92" fill="#e8323c"/><line x1="372" y1="452" x2="436.33" y2="452" stroke="#e8323c" stroke-width="1.2"/><polygon points="399.72,446.4 400.39,447.82 401.95,448.02 400.81,449.11 401.1,450.65 399.72,449.9 398.34,450.65 398.62,449.11 397.48,448.02 399.04,447.82" fill="#e8323c"/><polygon points="404.17,446.4 404.84,447.82 406.4,448.02 405.26,449.11 405.55,450.65 404.17,449.9 402.79,450.65 403.07,449.11 401.93,448.02 403.49,447.82" fill="#e8323c"/><polygon points="408.62,446.4 409.29,447.82 410.85,448.02 409.71,449.11 410,450.65 408.62,449.9 407.24,450.65 407.52,449.11 406.38,448.02 407.94,447.82" fill="#e8323c"/></g>
<g class="t"><line x1="494.4" y1="524.94" x2="687.9" y2="524.94" stroke="#ececec" stroke-width="0.8"/><line x1="494.4" y1="497.08" x2="687.9" y2="497.08" stroke="#ececec" stroke-width="0.8"/><line x1="494.4" y1="469.22" x2="687.9" y2="469.22" stroke="#ececec" stroke-width="0.8"/><line x1="494.4" y1="441.36" x2="687.9" y2="441.36" stroke="#ececec" stroke-width="0.8"/><line x1="494.4" y1="413.5" x2="687.9" y2="413.5" stroke="#ececec" stroke-width="0.8"/><line x1="526.65" y1="413.5" x2="526.65" y2="552.8" stroke="#ececec" stroke-width="0.8"/><line x1="558.9" y1="413.5" x2="558.9" y2="552.8" stroke="#ececec" stroke-width="0.8"/><line x1="591.15" y1="413.5" x2="591.15" y2="552.8" stroke="#ececec" stroke-width="0.8"/><line x1="623.4" y1="413.5" x2="623.4" y2="552.8" stroke="#ececec" stroke-width="0.8"/><line x1="655.65" y1="413.5" x2="655.65" y2="552.8" stroke="#ececec" stroke-width="0.8"/><path d="M526.65 413.5V420.88M526.65 436.07V438.85M522.64 413.5H530.66M522.64 438.85H530.66" stroke="#808080" stroke-width="0.8" fill="none"/><rect x="518.69" y="420.88" width="15.92" height="15.18" fill="#bbcaea" fill-opacity="0.75" stroke="#7fabd9" stroke-width="0.9"/><line x1="518.24" y1="432.58" x2="535.06" y2="432.58" stroke="#6f9fd3" stroke-width="0.9"/><path d="M591.15 451.81V464.4M591.15 502.71V513.24M587.14 451.81H595.16M587.14 513.24H595.16" stroke="#808080" stroke-width="0.8" fill="none"/><rect x="583.19" y="464.4" width="15.92" height="38.31" fill="#bbcaea" fill-opacity="0.75" stroke="#7fabd9" stroke-width="0.9"/><line x1="582.74" y1="478.69" x2="599.56" y2="478.69" stroke="#6f9fd3" stroke-width="0.9"/><path d="M623.4 476.05V479.53M623.4 515.33V518.3M619.39 476.05H627.41M619.39 518.3H627.41" stroke="#808080" stroke-width="0.8" fill="none"/><rect x="615.44" y="479.53" width="15.92" height="35.8" fill="#bbcaea" fill-opacity="0.75" stroke="#7fabd9" stroke-width="0.9"/><line x1="614.99" y1="495.41" x2="631.81" y2="495.41" stroke="#6f9fd3" stroke-width="0.9"/><path d="M655.65 513.29V515.61M655.65 528.7V534.2M651.64 513.29H659.66M651.64 534.2H659.66" stroke="#808080" stroke-width="0.8" fill="none"/><rect x="647.69" y="515.61" width="15.92" height="13.09" fill="#bbcaea" fill-opacity="0.75" stroke="#7fabd9" stroke-width="0.9"/><line x1="647.24" y1="520.62" x2="664.06" y2="520.62" stroke="#6f9fd3" stroke-width="0.9"/><path d="M494.4 413.5V552.8H687.9" stroke="#bbbbbb" stroke-width="0.85" fill="none"/><path d="M494.4 552.8h1.6M494.4 524.94h1.6M494.4 497.08h1.6M494.4 469.22h1.6M494.4 441.36h1.6M494.4 413.5h1.6M526.65 552.8v-1.6M558.9 552.8v-1.6M591.15 552.8v-1.6M623.4 552.8v-1.6M655.65 552.8v-1.6" stroke="#bbbbbb" stroke-width="0.8" fill="none"/><text transform="translate(492,555.95) scale(0.97,1)" font-size="8.3" text-anchor="end" fill="#262626">0</text><text transform="translate(492,528.09) scale(0.97,1)" font-size="8.3" text-anchor="end" fill="#262626">0.2</text><text transform="translate(492,500.23) scale(0.97,1)" font-size="8.3" text-anchor="end" fill="#262626">0.4</text><text transform="translate(492,472.37) scale(0.97,1)" font-size="8.3" text-anchor="end" fill="#262626">0.6</text><text transform="translate(492,444.51) scale(0.97,1)" font-size="8.3" text-anchor="end" fill="#262626">0.8</text><text transform="translate(492,416.65) scale(0.97,1)" font-size="8.3" text-anchor="end" fill="#262626">1</text><text transform="translate(526.65,563.6) scale(0.97,1)" font-size="8.3" text-anchor="middle" fill="#262626">Control</text><text transform="translate(558.9,563.6) scale(0.97,1)" font-size="8.3" text-anchor="middle" fill="#262626">0</text><text transform="translate(591.15,563.6) scale(0.97,1)" font-size="8.3" text-anchor="middle" fill="#262626">1</text><text transform="translate(623.4,563.6) scale(0.97,1)" font-size="8.3" text-anchor="middle" fill="#262626">2</text><text transform="translate(655.65,563.6) scale(0.97,1)" font-size="8.3" text-anchor="middle" fill="#262626">3</text><text transform="translate(477.2,483.65) rotate(-90)" font-size="8.2" text-anchor="middle" fill="#262626" textLength="99.3" lengthAdjust="spacingAndGlyphs" y="0">% of subject&#39;s height/s</text><line x1="526.65" y1="400.45" x2="655.65" y2="400.45" stroke="#e8323c" stroke-width="1.2"/><polygon points="586.7,394.85 587.38,396.27 588.93,396.47 587.79,397.56 588.08,399.1 586.7,398.35 585.32,399.1 585.61,397.56 584.47,396.47 586.02,396.27" fill="#e8323c"/><polygon points="591.15,394.85 591.83,396.27 593.38,396.47 592.24,397.56 592.53,399.1 591.15,398.35 589.77,399.1 590.06,397.56 588.92,396.47 590.47,396.27" fill="#e8323c"/><polygon points="595.6,394.85 596.28,396.27 597.83,396.47 596.69,397.56 596.98,399.1 595.6,398.35 594.22,399.1 594.51,397.56 593.37,396.47 594.92,396.27" fill="#e8323c"/><line x1="526.65" y1="406.4" x2="623.4" y2="406.4" stroke="#e8323c" stroke-width="1.2"/><polygon points="570.57,400.8 571.25,402.22 572.81,402.42 571.67,403.51 571.96,405.05 570.57,404.3 569.19,405.05 569.48,403.51 568.34,402.42 569.9,402.22" fill="#e8323c"/><polygon points="575.02,400.8 575.7,402.22 577.26,402.42 576.12,403.51 576.41,405.05 575.02,404.3 573.64,405.05 573.93,403.51 572.79,402.42 574.35,402.22" fill="#e8323c"/><polygon points="579.48,400.8 580.15,402.22 581.71,402.42 580.57,403.51 580.86,405.05 579.48,404.3 578.09,405.05 578.38,403.51 577.24,402.42 578.8,402.22" fill="#e8323c"/><line x1="526.65" y1="411.95" x2="591.15" y2="411.95" stroke="#e8323c" stroke-width="1.2"/><polygon points="554.45,406.35 555.13,407.77 556.68,407.97 555.54,409.06 555.83,410.6 554.45,409.85 553.07,410.6 553.36,409.06 552.22,407.97 553.77,407.77" fill="#e8323c"/><polygon points="558.9,406.35 559.58,407.77 561.13,407.97 559.99,409.06 560.28,410.6 558.9,409.85 557.52,410.6 557.81,409.06 556.67,407.97 558.22,407.77" fill="#e8323c"/><polygon points="563.35,406.35 564.03,407.77 565.58,407.97 564.44,409.06 564.73,410.6 563.35,409.85 561.97,410.6 562.26,409.06 561.12,407.97 562.67,407.77" fill="#e8323c"/><line x1="591.15" y1="447.8" x2="655.65" y2="447.8" stroke="#e8323c" stroke-width="1.2"/><polygon points="623.4,442.2 624.08,443.62 625.63,443.82 624.49,444.91 624.78,446.45 623.4,445.7 622.02,446.45 622.31,444.91 621.17,443.82 622.72,443.62" fill="#e8323c"/></g>
<text transform="translate(21.4,677) rotate(-90)" font-size="11.2" stroke="#111" stroke-width="0.15" text-anchor="middle" fill="#111" textLength="46" lengthAdjust="spacingAndGlyphs" y="3.95">Dystonia</text>
<g class="t"><line x1="56.8" y1="721.16" x2="247.2" y2="721.16" stroke="#ececec" stroke-width="0.8"/><line x1="56.8" y1="701.51" x2="247.2" y2="701.51" stroke="#ececec" stroke-width="0.8"/><line x1="56.8" y1="681.87" x2="247.2" y2="681.87" stroke="#ececec" stroke-width="0.8"/><line x1="56.8" y1="662.23" x2="247.2" y2="662.23" stroke="#ececec" stroke-width="0.8"/><line x1="56.8" y1="642.59" x2="247.2" y2="642.59" stroke="#ececec" stroke-width="0.8"/><line x1="56.8" y1="622.94" x2="247.2" y2="622.94" stroke="#ececec" stroke-width="0.8"/><line x1="56.8" y1="603.3" x2="247.2" y2="603.3" stroke="#ececec" stroke-width="0.8"/><line x1="88.53" y1="603.3" x2="88.53" y2="740.8" stroke="#ececec" stroke-width="0.8"/><line x1="152" y1="603.3" x2="152" y2="740.8" stroke="#ececec" stroke-width="0.8"/><line x1="215.47" y1="603.3" x2="215.47" y2="740.8" stroke="#ececec" stroke-width="0.8"/><path d="M88.53 605.85V609.98M88.53 640.82V653.78M80.62 605.85H96.44M80.62 653.78H96.44" stroke="#808080" stroke-width="0.8" fill="none"/><rect x="72.77" y="609.98" width="31.53" height="30.84" fill="#bbcaea" fill-opacity="0.75" stroke="#7fabd9" stroke-width="0.9"/><line x1="72.32" y1="623.92" x2="104.75" y2="623.92" stroke="#6f9fd3" stroke-width="0.9"/><path d="M152 603.1V610.17M152 653.98V701.71M144.09 603.1H159.91M144.09 701.71H159.91" stroke="#808080" stroke-width="0.8" fill="none"/><rect x="136.23" y="610.17" width="31.53" height="43.8" fill="#bbcaea" fill-opacity="0.75" stroke="#7fabd9" stroke-width="0.9"/><line x1="135.78" y1="629.62" x2="168.22" y2="629.62" stroke="#6f9fd3" stroke-width="0.9"/><path d="M215.47 605.66V638.66M215.47 700.92V726.46M207.56 605.66H223.38M207.56 726.46H223.38" stroke="#808080" stroke-width="0.8" fill="none"/><rect x="199.7" y="638.66" width="31.53" height="62.27" fill="#bbcaea" fill-opacity="0.75" stroke="#7fabd9" stroke-width="0.9"/><line x1="199.25" y1="652.21" x2="231.68" y2="652.21" stroke="#6f9fd3" stroke-width="0.9"/><path d="M56.8 603.3V740.8H247.2" stroke="#bbbbbb" stroke-width="0.85" fill="none"/><path d="M56.8 740.8h1.6M56.8 721.16h1.6M56.8 701.51h1.6M56.8 681.87h1.6M56.8 662.23h1.6M56.8 642.59h1.6M56.8 622.94h1.6M56.8 603.3h1.6M88.53 740.8v-1.6M152 740.8v-1.6M215.47 740.8v-1.6" stroke="#bbbbbb" stroke-width="0.8" fill="none"/><text transform="translate(54.4,743.95) scale(0.97,1)" font-size="8.3" text-anchor="end" fill="#262626">50</text><text transform="translate(54.4,724.31) scale(0.97,1)" font-size="8.3" text-anchor="end" fill="#262626">60</text><text transform="translate(54.4,704.66) scale(0.97,1)" font-size="8.3" text-anchor="end" fill="#262626">70</text><text transform="translate(54.4,685.02) scale(0.97,1)" font-size="8.3" text-anchor="end" fill="#262626">80</text><text transform="translate(54.4,665.38) scale(0.97,1)" font-size="8.3" text-anchor="end" fill="#262626">90</text><text transform="translate(54.4,645.74) scale(0.97,1)" font-size="8.3" text-anchor="end" fill="#262626">100</text><text transform="translate(54.4,626.09) scale(0.97,1)" font-size="8.3" text-anchor="end" fill="#262626">110</text><text transform="translate(54.4,606.45) scale(0.97,1)" font-size="8.3" text-anchor="end" fill="#262626">120</text><text transform="translate(88.53,751.6) scale(0.97,1)" font-size="8.3" text-anchor="middle" fill="#262626">Control</text><text transform="translate(152,751.6) scale(0.97,1)" font-size="8.3" text-anchor="middle" fill="#262626">No Dystonia</text><text transform="translate(215.47,751.6) scale(0.97,1)" font-size="8.3" text-anchor="middle" fill="#262626">Dystonia</text><text transform="translate(36.8,672.55) rotate(-90)" font-size="8.2" text-anchor="middle" fill="#262626" textLength="36.8" lengthAdjust="spacingAndGlyphs" y="0">step/min</text></g>
<g class="t"><line x1="275.5" y1="706.1" x2="468.5" y2="706.1" stroke="#ececec" stroke-width="0.8"/><line x1="275.5" y1="671.4" x2="468.5" y2="671.4" stroke="#ececec" stroke-width="0.8"/><line x1="275.5" y1="636.7" x2="468.5" y2="636.7" stroke="#ececec" stroke-width="0.8"/><line x1="275.5" y1="602" x2="468.5" y2="602" stroke="#ececec" stroke-width="0.8"/><line x1="307.67" y1="602" x2="307.67" y2="740.8" stroke="#ececec" stroke-width="0.8"/><line x1="372" y1="602" x2="372" y2="740.8" stroke="#ececec" stroke-width="0.8"/><line x1="436.33" y1="602" x2="436.33" y2="740.8" stroke="#ececec" stroke-width="0.8"/><path d="M307.67 611.2V617.96M307.67 649.89V652.84M299.65 611.2H315.68M299.65 652.84H315.68" stroke="#808080" stroke-width="0.8" fill="none"/><rect x="291.68" y="617.96" width="31.97" height="31.92" fill="#bbcaea" fill-opacity="0.75" stroke="#7fabd9" stroke-width="0.9"/><line x1="291.23" y1="638.78" x2="324.1" y2="638.78" stroke="#6f9fd3" stroke-width="0.9"/><path d="M372 674.09V678.39M372 706.1V728M363.98 674.09H380.02M363.98 728H380.02" stroke="#808080" stroke-width="0.8" fill="none"/><rect x="356.02" y="678.39" width="31.97" height="27.71" fill="#bbcaea" fill-opacity="0.75" stroke="#7fabd9" stroke-width="0.9"/><line x1="355.57" y1="681.39" x2="388.43" y2="681.39" stroke="#6f9fd3" stroke-width="0.9"/><path d="M436.33 650.41V663.25M436.33 684.24V712.61M428.32 650.41H444.35M428.32 712.61H444.35" stroke="#808080" stroke-width="0.8" fill="none"/><rect x="420.35" y="663.25" width="31.97" height="20.99" fill="#bbcaea" fill-opacity="0.75" stroke="#7fabd9" stroke-width="0.9"/><line x1="419.9" y1="676.34" x2="452.77" y2="676.34" stroke="#6f9fd3" stroke-width="0.9"/><path d="M275.5 602V740.8H468.5" stroke="#bbbbbb" stroke-width="0.85" fill="none"/><path d="M275.5 740.8h1.6M275.5 706.1h1.6M275.5 671.4h1.6M275.5 636.7h1.6M275.5 602h1.6M307.67 740.8v-1.6M372 740.8v-1.6M436.33 740.8v-1.6" stroke="#bbbbbb" stroke-width="0.8" fill="none"/><text transform="translate(273.1,743.95) scale(0.97,1)" font-size="8.3" text-anchor="end" fill="#262626">0</text><text transform="translate(273.1,709.25) scale(0.97,1)" font-size="8.3" text-anchor="end" fill="#262626">0.2</text><text transform="translate(273.1,674.55) scale(0.97,1)" font-size="8.3" text-anchor="end" fill="#262626">0.4</text><text transform="translate(273.1,639.85) scale(0.97,1)" font-size="8.3" text-anchor="end" fill="#262626">0.6</text><text transform="translate(273.1,605.15) scale(0.97,1)" font-size="8.3" text-anchor="end" fill="#262626">0.8</text><text transform="translate(307.67,751.6) scale(0.97,1)" font-size="8.3" text-anchor="middle" fill="#262626">Control</text><text transform="translate(372,751.6) scale(0.97,1)" font-size="8.3" text-anchor="middle" fill="#262626">No Dystonia</text><text transform="translate(436.33,751.6) scale(0.97,1)" font-size="8.3" text-anchor="middle" fill="#262626">Dystonia</text><text transform="translate(258.3,671.9) rotate(-90)" font-size="8.2" text-anchor="middle" fill="#262626" textLength="91" lengthAdjust="spacingAndGlyphs" y="0">% of subject&#39;s height</text><line x1="307.67" y1="602.8" x2="436.33" y2="602.8" stroke="#e8323c" stroke-width="1.2"/><polygon points="367.55,597.2 368.23,598.62 369.78,598.82 368.64,599.91 368.93,601.45 367.55,600.7 366.17,601.45 366.46,599.91 365.32,598.82 366.87,598.62" fill="#e8323c"/><polygon points="372,597.2 372.68,598.62 374.23,598.82 373.09,599.91 373.38,601.45 372,600.7 370.62,601.45 370.91,599.91 369.77,598.82 371.32,598.62" fill="#e8323c"/><polygon points="376.45,597.2 377.13,598.62 378.68,598.82 377.54,599.91 377.83,601.45 376.45,600.7 375.07,601.45 375.36,599.91 374.22,598.82 375.77,598.62" fill="#e8323c"/><line x1="307.67" y1="609.1" x2="372" y2="609.1" stroke="#e8323c" stroke-width="1.2"/><polygon points="335.38,603.5 336.06,604.92 337.62,605.12 336.48,606.21 336.76,607.75 335.38,607 334,607.75 334.29,606.21 333.15,605.12 334.71,604.92" fill="#e8323c"/><polygon points="339.83,603.5 340.51,604.92 342.07,605.12 340.93,606.21 341.21,607.75 339.83,607 338.45,607.75 338.74,606.21 337.6,605.12 339.16,604.92" fill="#e8323c"/><polygon points="344.28,603.5 344.96,604.92 346.52,605.12 345.38,606.21 345.66,607.75 344.28,607 342.9,607.75 343.19,606.21 342.05,605.12 343.61,604.92" fill="#e8323c"/></g>
<g class="t"><line x1="494.4" y1="713.04" x2="687.9" y2="713.04" stroke="#ececec" stroke-width="0.8"/><line x1="494.4" y1="685.28" x2="687.9" y2="685.28" stroke="#ececec" stroke-width="0.8"/><line x1="494.4" y1="657.52" x2="687.9" y2="657.52" stroke="#ececec" stroke-width="0.8"/><line x1="494.4" y1="629.76" x2="687.9" y2="629.76" stroke="#ececec" stroke-width="0.8"/><line x1="494.4" y1="602" x2="687.9" y2="602" stroke="#ececec" stroke-width="0.8"/><line x1="526.65" y1="602" x2="526.65" y2="740.8" stroke="#ececec" stroke-width="0.8"/><line x1="591.15" y1="602" x2="591.15" y2="740.8" stroke="#ececec" stroke-width="0.8"/><line x1="655.65" y1="602" x2="655.65" y2="740.8" stroke="#ececec" stroke-width="0.8"/><path d="M526.65 602V609.36M526.65 624.49V627.26M518.61 602H534.69M518.61 627.26H534.69" stroke="#808080" stroke-width="0.8" fill="none"/><rect x="510.62" y="609.36" width="32.05" height="15.13" fill="#bbcaea" fill-opacity="0.75" stroke="#7fabd9" stroke-width="0.9"/><line x1="510.17" y1="621.02" x2="543.12" y2="621.02" stroke="#6f9fd3" stroke-width="0.9"/><path d="M591.15 661.55V667.29M591.15 703.32V722.2M583.11 661.55H599.19M583.11 722.2H599.19" stroke="#808080" stroke-width="0.8" fill="none"/><rect x="575.12" y="667.29" width="32.05" height="36.03" fill="#bbcaea" fill-opacity="0.75" stroke="#7fabd9" stroke-width="0.9"/><line x1="574.67" y1="690.19" x2="607.62" y2="690.19" stroke="#6f9fd3" stroke-width="0.9"/><path d="M655.65 640.1V652.52M655.65 701.34V711.43M647.61 640.1H663.69M647.61 711.43H663.69" stroke="#808080" stroke-width="0.8" fill="none"/><rect x="639.62" y="652.52" width="32.05" height="48.82" fill="#bbcaea" fill-opacity="0.75" stroke="#7fabd9" stroke-width="0.9"/><line x1="639.17" y1="678.41" x2="672.12" y2="678.41" stroke="#6f9fd3" stroke-width="0.9"/><path d="M494.4 602V740.8H687.9" stroke="#bbbbbb" stroke-width="0.85" fill="none"/><path d="M494.4 740.8h1.6M494.4 713.04h1.6M494.4 685.28h1.6M494.4 657.52h1.6M494.4 629.76h1.6M494.4 602h1.6M526.65 740.8v-1.6M591.15 740.8v-1.6M655.65 740.8v-1.6" stroke="#bbbbbb" stroke-width="0.8" fill="none"/><text transform="translate(492,743.95) scale(0.97,1)" font-size="8.3" text-anchor="end" fill="#262626">0</text><text transform="translate(492,716.19) scale(0.97,1)" font-size="8.3" text-anchor="end" fill="#262626">0.2</text><text transform="translate(492,688.43) scale(0.97,1)" font-size="8.3" text-anchor="end" fill="#262626">0.4</text><text transform="translate(492,660.67) scale(0.97,1)" font-size="8.3" text-anchor="end" fill="#262626">0.6</text><text transform="translate(492,632.91) scale(0.97,1)" font-size="8.3" text-anchor="end" fill="#262626">0.8</text><text transform="translate(492,605.15) scale(0.97,1)" font-size="8.3" text-anchor="end" fill="#262626">1</text><text transform="translate(526.65,751.6) scale(0.97,1)" font-size="8.3" text-anchor="middle" fill="#262626">Control</text><text transform="translate(591.15,751.6) scale(0.97,1)" font-size="8.3" text-anchor="middle" fill="#262626">No Dystonia</text><text transform="translate(655.65,751.6) scale(0.97,1)" font-size="8.3" text-anchor="middle" fill="#262626">Dystonia</text><text transform="translate(477.2,671.9) rotate(-90)" font-size="8.2" text-anchor="middle" fill="#262626" textLength="99.3" lengthAdjust="spacingAndGlyphs" y="0">% of subject&#39;s height/s</text><line x1="526.65" y1="595" x2="655.65" y2="595" stroke="#e8323c" stroke-width="1.2"/><polygon points="586.7,589.4 587.38,590.82 588.93,591.02 587.79,592.11 588.08,593.65 586.7,592.9 585.32,593.65 585.61,592.11 584.47,591.02 586.02,590.82" fill="#e8323c"/><polygon points="591.15,589.4 591.83,590.82 593.38,591.02 592.24,592.11 592.53,593.65 591.15,592.9 589.77,593.65 590.06,592.11 588.92,591.02 590.47,590.82" fill="#e8323c"/><polygon points="595.6,589.4 596.28,590.82 597.83,591.02 596.69,592.11 596.98,593.65 595.6,592.9 594.22,593.65 594.51,592.11 593.37,591.02 594.92,590.82" fill="#e8323c"/><line x1="526.65" y1="600.8" x2="591.15" y2="600.8" stroke="#e8323c" stroke-width="1.2"/><polygon points="554.45,595.2 555.13,596.62 556.68,596.82 555.54,597.91 555.83,599.45 554.45,598.7 553.07,599.45 553.36,597.91 552.22,596.82 553.77,596.62" fill="#e8323c"/><polygon points="558.9,595.2 559.58,596.62 561.13,596.82 559.99,597.91 560.28,599.45 558.9,598.7 557.52,599.45 557.81,597.91 556.67,596.82 558.22,596.62" fill="#e8323c"/><polygon points="563.35,595.2 564.03,596.62 565.58,596.82 564.44,597.91 564.73,599.45 563.35,598.7 561.97,599.45 562.26,597.91 561.12,596.82 562.67,596.62" fill="#e8323c"/></g>
</svg></body></html>
